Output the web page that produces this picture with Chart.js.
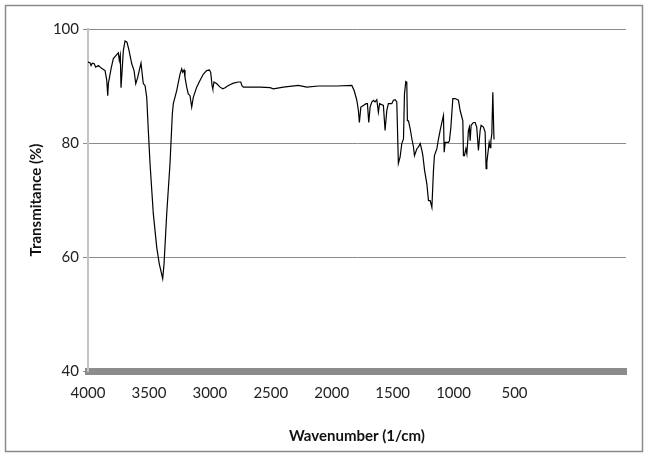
<!DOCTYPE html>
<html lang="en">
<head>
  <meta charset="UTF-8">
  <title>FTIR Spectrum</title>
  <script src="https://cdn.jsdelivr.net/npm/chart.js"></script>
  <style>
    html, body { margin: 0; padding: 0; background: #fff; }
    #wrap { width: 646px; height: 457px; }
  </style>
</head>
<body>
  <div id="wrap">
    <canvas id="irChart" width="646" height="457"></canvas>
  </div>

  <script>
    // wavenumber (1/cm) and transmittance (%)
    const wavenumbers = [
      4000, 3984, 3975, 3965, 3949, 3937, 3915, 3888, 3860, 3846, 3838, 3833, 3811, 3792, 3764, 3751,
      3743, 3735, 3729, 3710, 3696, 3680, 3663, 3641, 3622, 3608, 3592, 3573, 3565, 3546, 3532, 3518,
      3505, 3491, 3464, 3436, 3415, 3387, 3376, 3354, 3327, 3308, 3300, 3272, 3245, 3231, 3223, 3212,
      3204, 3190, 3177, 3163, 3149, 3136, 3108, 3080, 3053, 3026, 3004, 2993, 2982, 2976, 2966, 2943,
      2916, 2894, 2875, 2848, 2807, 2766, 2746, 2738, 2725, 2670, 2588, 2506, 2479, 2397, 2274, 2204,
      2109, 1958, 1835, 1816, 1794, 1781, 1773, 1761, 1740, 1718, 1707, 1696, 1685, 1671, 1658, 1644,
      1630, 1617, 1607, 1576, 1562, 1548, 1535, 1507, 1494, 1480, 1466, 1453, 1439, 1425, 1411, 1403,
      1392, 1384, 1379, 1370, 1356, 1342, 1329, 1321, 1301, 1288, 1274, 1260, 1252, 1238, 1219, 1206,
      1192, 1178, 1165, 1157, 1137, 1124, 1110, 1096, 1083, 1077, 1069, 1042, 1034, 1022, 1006, 987,
      960, 946, 924, 919, 911, 899, 891, 878, 870, 864, 856, 837, 823, 810, 796, 782,
      774, 755, 741, 733, 727, 714, 708, 700, 694, 686, 678, 670, 668
    ];
    const transmittance = [
      94.2, 94.1, 93.6, 94.0, 93.9, 93.3, 93.6, 93.1, 92.7, 91.0, 88.3, 90.4, 93.0, 94.8, 95.5, 95.8,
      94.5, 95.4, 89.7, 96.2, 97.9, 97.7, 96.2, 93.9, 92.7, 90.4, 91.5, 93.3, 94.0, 90.4, 90.1, 88.0,
      82.2, 76.4, 67.6, 61.7, 58.8, 56.2, 58.8, 67.6, 76.4, 85.1, 86.9, 89.2, 92.1, 93.0, 92.4, 92.8,
      91.5, 89.8, 88.6, 88.3, 86.3, 88.0, 89.8, 91.0, 92.1, 92.7, 92.8, 92.4, 90.1, 89.5, 90.7, 90.4,
      89.8, 89.5, 89.7, 90.1, 90.5, 90.7, 90.7, 90.1, 89.8, 89.8, 89.8, 89.7, 89.5, 89.8, 90.1, 89.8,
      90.0, 90.0, 90.1, 89.2, 87.5, 85.7, 83.6, 86.3, 86.6, 86.9, 86.9, 83.6, 86.3, 87.2, 87.5, 87.2,
      87.6, 85.4, 86.9, 86.6, 82.2, 85.7, 86.9, 86.9, 87.5, 87.6, 87.2, 76.4, 77.5, 79.9, 80.7, 88.6,
      90.8, 90.7, 83.9, 83.9, 82.5, 80.7, 79.3, 77.8, 79.0, 79.3, 79.9, 78.7, 77.8, 75.2, 72.8, 69.9,
      69.9, 68.7, 75.2, 77.8, 79.0, 80.7, 82.2, 83.6, 84.8, 78.4, 80.1, 80.1, 80.4, 82.8, 87.8, 87.8,
      87.5, 85.7, 83.9, 77.8, 77.8, 79.0, 78.1, 82.2, 82.8, 80.4, 83.1, 83.6, 83.6, 82.8, 78.7, 82.2,
      83.1, 82.8, 81.9, 75.5, 76.6, 79.0, 80.1, 79.2, 80.4, 81.6, 88.9, 81.9, 80.6
    ];
    const xTickLabels = [4000, 3500, 3000, 2500, 2000, 1500, 1000, 500];
    const yTickLabels = [40, 60, 80, 100];

    const points = wavenumbers.map((w, i) => ({ x: w, y: transmittance[i] }));

    // outer frame around the whole chart
    const frame = {
      id: "frame",
      afterDraw(chart) {
        const ctx = chart.ctx;
        ctx.save();
        ctx.strokeStyle = "#8a8a8a";
        ctx.lineWidth = 1.5;
        ctx.strokeRect(5.5, 5.5, 637, 446);
        ctx.restore();
      }
    };

    const ctx = document.getElementById("irChart").getContext("2d");
    new Chart(ctx, {
      type: "scatter",
      data: {
        datasets: [{
          data: points,
          showLine: true,
          borderColor: "#000",
          borderWidth: 1.2,
          pointRadius: 0,
          tension: 0
        }]
      },
      options: {
        responsive: false,
        animation: false,
        devicePixelRatio: 1,
        layout: { padding: { left: 27, top: 29, right: 20, bottom: 12 } },
        plugins: {
          legend: { display: false },
          tooltip: { enabled: false }
        },
        scales: {
          x: {
            type: "linear",
            reverse: true,
            min: -415,
            max: 4000,
            afterBuildTicks: (scale) => {
              scale.ticks = xTickLabels.map(v => ({ value: v }));
            },
            afterFit: (scale) => { scale.height = 74; },
            grid: { display: false, drawTicks: false },
            border: { display: true, color: "#8c8c8c", width: 7 },
            ticks: {
              padding: 13,
              color: "#222",
              font: { family: "Lato", size: 15 },
              maxRotation: 0,
              autoSkip: false,
              callback: (v) => String(v)
            },
            title: {
              display: true,
              text: "Wavenumber (1/cm)",
              color: "#111",
              font: { family: "Lato", size: 15, weight: "bold" },
              padding: 0
            }
          },
          y: {
            min: 40,
            max: 100,
            afterBuildTicks: (scale) => {
              scale.ticks = yTickLabels.map(v => ({ value: v }));
            },
            afterFit: (scale) => { scale.width = 61; },
            grid: { color: "#8c8c8c", lineWidth: 1, tickLength: 5 },
            border: { display: true, color: "#c4c4c4", width: 2 },
            ticks: {
              padding: 4,
              color: "#222",
              font: { family: "Lato", size: 15 }
            },
            title: {
              display: true,
              text: "Transmitance (%)",
              color: "#111",
              font: { family: "Lato", size: 15, weight: "bold" },
              padding: 0
            }
          }
        }
      },
      plugins: [frame]
    });
  </script>
</body>
</html>
